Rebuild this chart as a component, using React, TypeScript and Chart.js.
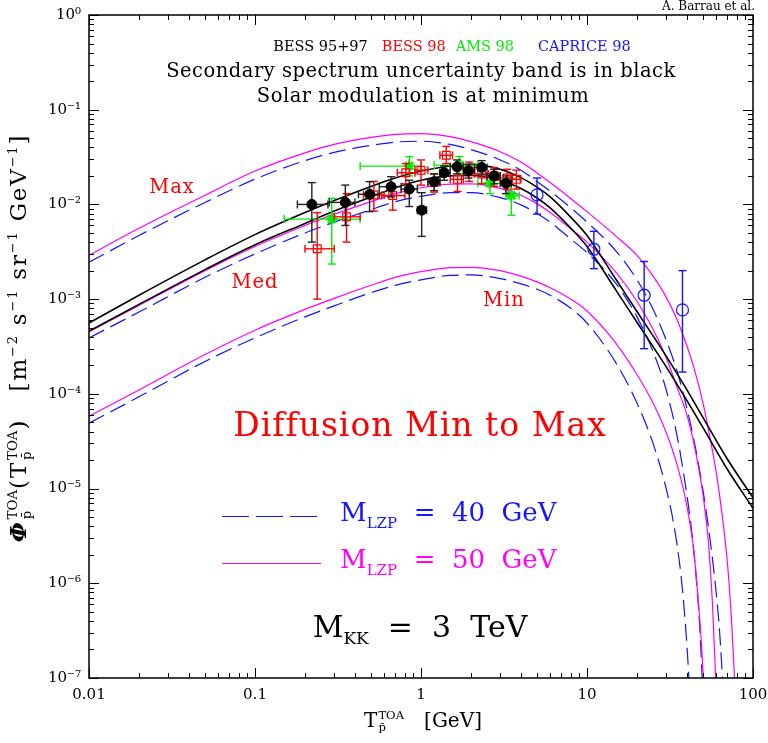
import React, { useEffect, useRef } from "react";
import { Chart, registerables } from "chart.js";
Chart.register(...registerables);

// ---------------- axes ----------------
const xTickValues = [0.01, 0.1, 1, 10, 100];
const xTickLabels = ["0.01", "0.1", "1", "10", "100"];
const yTickValues = [1e-7, 1e-6, 1e-5, 1e-4, 1e-3, 1e-2, 1e-1, 1];
const yTickLabels = ["10⁻⁷", "10⁻⁶", "10⁻⁵", "10⁻⁴", "10⁻³", "10⁻²", "10⁻¹", "10⁰"];
const minorMultipliers = [2, 3, 4, 5, 6, 7, 8, 9];

// ---------------- model curves (T [GeV], flux) ----------------
const commonT = [0.01, 0.02, 0.05, 0.1, 0.2, 0.3, 0.5, 0.7, 1, 1.5, 2, 3, 4, 5, 6, 8, 10, 15, 20];

// Secondary band (black)
const secUpperT = [...commonT, 25, 30, 40, 50, 70, 100];
const secUpperF = [5.6e-4, 1.1e-3, 2.6e-3, 4.8e-3, 8.2e-3, 1.1e-2, 1.55e-2, 1.9e-2, 2.25e-2, 2.55e-2, 2.65e-2, 2.35e-2, 1.92e-2, 1.52e-2, 1.2e-2, 7.3e-3, 4.7e-3, 1.6e-3, 7.4e-4, 4.1e-4, 2.5e-4, 1.1e-4, 5.6e-5, 2.05e-5, 8.0e-6];
const secLowerT = [...commonT, 25, 30, 40, 50, 70, 100];
const secLowerF = [4.6e-4, 8.8e-4, 2.05e-3, 3.75e-3, 6.3e-3, 8.5e-3, 1.2e-2, 1.5e-2, 1.8e-2, 2.0e-2, 2.02e-2, 1.8e-2, 1.47e-2, 1.17e-2, 9.2e-3, 5.6e-3, 3.6e-3, 1.23e-3, 5.7e-4, 3.15e-4, 1.93e-4, 8.5e-5, 4.4e-5, 1.6e-5, 6.2e-6];

// M_LZP = 50 GeV (magenta, solid)
const mag50MaxT = [...commonT, 25, 30, 35, 40, 44, 50, 55, 60, 65, 70, 74, 77, 79];
const mag50MaxF = [2.9e-3, 5.6e-3, 1.25e-2, 2.25e-2, 3.5e-2, 4.3e-2, 5.1e-2, 5.5e-2, 5.6e-2, 5.2e-2, 4.6e-2, 3.6e-2, 2.8e-2, 2.15e-2, 1.7e-2, 1.15e-2, 8.4e-3, 4.6e-3, 2.9e-3, 1.75e-3, 1.05e-3, 6.0e-4, 3.2e-4, 1.9e-4, 8.0e-5, 3.5e-5, 1.5e-5, 5.5e-6, 1.7e-6, 4.5e-7, 1.2e-7, 4e-8];
const mag50MedT = [...commonT, 25, 30, 35, 40, 45, 50, 54, 57, 59, 61];
const mag50MedF = [4.5e-4, 8.6e-4, 2.0e-3, 3.6e-3, 6.0e-3, 7.9e-3, 1.07e-2, 1.3e-2, 1.5e-2, 1.64e-2, 1.65e-2, 1.48e-2, 1.25e-2, 1.02e-2, 8.2e-3, 5.5e-3, 4.0e-3, 1.9e-3, 9.5e-4, 4.8e-4, 2.4e-4, 1.15e-4, 6.0e-5, 2.5e-5, 8.5e-6, 2.6e-6, 6.0e-7, 1.5e-7, 3e-8];
const mag50MinT = [...commonT, 25, 30, 35, 40, 44, 47, 49, 51];
const mag50MinF = [5.8e-5, 1.1e-4, 2.6e-4, 4.7e-4, 7.8e-4, 1.02e-3, 1.4e-3, 1.7e-3, 1.95e-3, 2.15e-3, 2.17e-3, 2.0e-3, 1.75e-3, 1.52e-3, 1.32e-3, 1.0e-3, 7.5e-4, 3.4e-4, 1.6e-4, 8.0e-5, 3.9e-5, 1.75e-5, 6.5e-6, 2.2e-6, 6.0e-7, 2.2e-7, 6e-8];

// M_LZP = 40 GeV (blue, dashed)
const blu40MaxT = [...commonT, 25, 30, 35, 40, 45, 50, 55, 60, 63, 66];
const blu40MaxF = [2.45e-3, 4.7e-3, 1.05e-2, 1.85e-2, 2.9e-2, 3.55e-2, 4.2e-2, 4.55e-2, 4.65e-2, 4.3e-2, 3.8e-2, 2.95e-2, 2.3e-2, 1.75e-2, 1.38e-2, 9.2e-3, 6.5e-3, 3.2e-3, 1.6e-3, 7.8e-4, 3.7e-4, 1.7e-4, 7.0e-5, 2.7e-5, 9.5e-6, 3.0e-6, 8.0e-7, 3.0e-7, 8e-8];
const blu40MedT = [...commonT, 25, 30, 35, 40, 43, 46, 48, 50];
const blu40MedF = [3.9e-4, 7.3e-4, 1.7e-3, 3.0e-3, 5.0e-3, 6.5e-3, 8.8e-3, 1.07e-2, 1.22e-2, 1.33e-2, 1.33e-2, 1.18e-2, 9.9e-3, 8.0e-3, 6.5e-3, 4.3e-3, 3.1e-3, 1.45e-3, 6.5e-4, 2.8e-4, 1.1e-4, 3.5e-5, 8.5e-6, 3.2e-6, 9.0e-7, 3.0e-7, 6e-8];
const blu40MinT = [...commonT, 25, 30, 33, 36, 38, 40, 42];
const blu40MinF = [4.9e-5, 9.3e-5, 2.2e-4, 3.9e-4, 6.5e-4, 8.5e-4, 1.17e-3, 1.4e-3, 1.6e-3, 1.78e-3, 1.8e-3, 1.65e-3, 1.45e-3, 1.27e-3, 1.1e-3, 8.0e-4, 5.6e-4, 2.1e-4, 8.0e-5, 3.0e-5, 1.0e-5, 4.6e-6, 1.7e-6, 7.0e-7, 2.2e-7, 5e-8];

// ---------------- data points ----------------
// BESS 95+97 (black filled circles)
const bess9597T = [0.22, 0.35, 0.49, 0.66, 0.85, 1.01, 1.2, 1.38, 1.65, 1.93, 2.32, 2.76, 3.25];
const bess9597F = [1.0e-2, 1.05e-2, 1.28e-2, 1.54e-2, 1.45e-2, 8.7e-3, 1.74e-2, 2.16e-2, 2.5e-2, 2.27e-2, 2.46e-2, 2.0e-2, 1.67e-2];
const bess9597Fhi = [1.7e-2, 1.6e-2, 1.74e-2, 1.96e-2, 1.8e-2, 1.33e-2, 2.1e-2, 2.55e-2, 2.95e-2, 2.65e-2, 2.9e-2, 2.35e-2, 2.0e-2];
const bess9597Flo = [4.0e-3, 6.0e-3, 8.4e-3, 1.2e-2, 9.5e-3, 4.6e-3, 1.4e-2, 1.8e-2, 2.1e-2, 1.9e-2, 2.05e-2, 1.65e-2, 1.3e-2];
const bess9597Tlo = [0.18, 0.28, 0.42, 0.56, 0.76, 0.95, 1.1, 1.3, 1.5, 1.8, 2.1, 2.5, 3.0];
const bess9597Thi = [0.275, 0.40, 0.56, 0.76, 0.95, 1.08, 1.3, 1.5, 1.8, 2.1, 2.5, 3.0, 3.5];

// BESS 98 (red open squares)
const bess98T = [0.237, 0.356, 0.52, 0.675, 0.81, 1.0, 1.2, 1.42, 1.66, 1.95, 2.32, 2.76, 3.3, 3.75];
const bess98F = [3.4e-3, 7.4e-3, 1.26e-2, 1.24e-2, 2.16e-2, 2.3e-2, 1.7e-2, 3.3e-2, 1.84e-2, 2.25e-2, 2.1e-2, 2.0e-2, 1.9e-2, 1.84e-2];
const bess98Fhi = [8.2e-3, 1.3e-2, 1.75e-2, 1.54e-2, 2.7e-2, 2.95e-2, 2.1e-2, 4.1e-2, 2.3e-2, 2.8e-2, 2.6e-2, 2.45e-2, 2.35e-2, 2.3e-2];
const bess98Flo = [1.0e-3, 4.0e-3, 8.5e-3, 8.7e-3, 1.65e-2, 1.6e-2, 1.35e-2, 2.7e-2, 1.37e-2, 1.75e-2, 1.65e-2, 1.55e-2, 1.45e-2, 1.45e-2];
const bess98Tlo = [0.2, 0.30, 0.45, 0.58, 0.72, 0.92, 1.1, 1.3, 1.5, 1.8, 2.1, 2.5, 3.0, 3.5];
const bess98Thi = [0.3, 0.43, 0.6, 0.8, 0.92, 1.1, 1.3, 1.55, 1.8, 2.1, 2.55, 3.0, 3.5, 4.0];

// AMS 98 (green stars)
const ams98T = [0.29, 0.85, 1.7, 2.6, 3.5];
const ams98F = [7.0e-3, 2.54e-2, 2.6e-2, 1.67e-2, 1.24e-2];
const ams98Fhi = [1.16e-2, 3.2e-2, 3.2e-2, 2.1e-2, 1.9e-2];
const ams98Flo = [2.35e-3, 2.0e-2, 2.1e-2, 1.3e-2, 7.7e-3];
const ams98Tlo = [0.15, 0.43, 1.2, 2.2, 3.25];
const ams98Thi = [0.43, 1.0, 2.2, 3.25, 3.9];

// CAPRICE 98 (blue open circles)
const caprice98T = [5.0, 11.0, 22.1, 37.6];
const caprice98F = [1.26e-2, 3.36e-3, 1.1e-3, 7.7e-4];
const caprice98Fhi = [1.9e-2, 5.2e-3, 2.5e-3, 2.0e-3];
const caprice98Flo = [7.9e-3, 2.1e-3, 3.0e-4, 1.7e-4];

// ---------------- helpers ----------------
const pts = (xs: number[], ys: number[]) => xs.map((x, i) => ({ x, y: ys[i] }));
const SERIF = "'DejaVu Serif', 'Liberation Serif', serif";
const MAGENTA = "#ff00ff";
const BLUE = "#1414ff";
const RED = "#ff0000";
const GREEN = "#00ee00";

function curve(xs: number[], ys: number[], color: string, width: number, dash: number[] = []) {
  return {
    data: pts(xs, ys),
    showLine: true,
    borderColor: color,
    borderWidth: width,
    borderDash: dash,
    pointRadius: 0,
    cubicInterpolationMode: "monotone",
    fill: false,
    clip: 0,
  };
}

const errorBarPlugin = {
  id: "errorBars",
  beforeDatasetDraw(chart: any, args: any) {
    const ds = chart.data.datasets[args.index];
    if (!ds.err) return;
    const { ctx, scales } = chart;
    const xs = scales.x, ys = scales.y;
    const e = ds.err;
    ctx.save();
    ctx.strokeStyle = e.color;
    ctx.lineWidth = 1.4;
    const cap = 4;
    const line = (x1: number, y1: number, x2: number, y2: number) => {
      ctx.beginPath(); ctx.moveTo(x1, y1); ctx.lineTo(x2, y2); ctx.stroke();
    };
    ds.data.forEach((p: any, i: number) => {
      const px = xs.getPixelForValue(p.x);
      const py = ys.getPixelForValue(p.y);
      const yt = ys.getPixelForValue(e.fhi[i]);
      const yb = ys.getPixelForValue(e.flo[i]);
      line(px, yt, px, yb);
      line(px - cap, yt, px + cap, yt);
      line(px - cap, yb, px + cap, yb);
      if (e.tlo && e.thi) {
        const xl = xs.getPixelForValue(e.tlo[i]);
        const xr = xs.getPixelForValue(e.thi[i]);
        line(xl, py, xr, py);
        line(xl, py - cap, xl, py + cap);
        line(xr, py - cap, xr, py + cap);
      }
    });
    ctx.restore();
  },
};

const framePlugin = {
  id: "frameTicks",
  afterDraw(chart: any) {
    const { ctx, chartArea: a, scales } = chart;
    const xs = scales.x, ys = scales.y;
    ctx.save();
    ctx.strokeStyle = "#000";
    ctx.lineWidth = 1.5;
    ctx.strokeRect(a.left, a.top, a.right - a.left, a.bottom - a.top);
    ctx.lineWidth = 1;
    const line = (x1: number, y1: number, x2: number, y2: number) => {
      ctx.beginPath(); ctx.moveTo(x1, y1); ctx.lineTo(x2, y2); ctx.stroke();
    };
    const MAJ = 10, MIN = 5;
    xTickValues.forEach((v, i) => {
      const p = Math.round(xs.getPixelForValue(v)) + 0.5;
      line(p, a.bottom, p, a.bottom - MAJ);
      line(p, a.top, p, a.top + MAJ);
      if (i < xTickValues.length - 1) {
        minorMultipliers.forEach((m) => {
          const q = Math.round(xs.getPixelForValue(v * m)) + 0.5;
          line(q, a.bottom, q, a.bottom - MIN);
          line(q, a.top, q, a.top + MIN);
        });
      }
    });
    yTickValues.forEach((v, i) => {
      const p = Math.round(ys.getPixelForValue(v)) + 0.5;
      line(a.left, p, a.left + MAJ, p);
      line(a.right, p, a.right - MAJ, p);
      if (i < yTickValues.length - 1) {
        minorMultipliers.forEach((m) => {
          const q = Math.round(ys.getPixelForValue(v * m)) + 0.5;
          line(a.left, q, a.left + MIN, q);
          line(a.right, q, a.right - MIN, q);
        });
      }
    });
    ctx.restore();
  },
};

// stacked superscript / subscript
function SS({ sup, sub, size = "0.58em" }: { sup: string; sub: string; size?: string }) {
  return (
    <span style={{ display: "inline-flex", flexDirection: "column", verticalAlign: "middle", fontSize: size, lineHeight: 1.05, textAlign: "left", margin: "0 1px", letterSpacing: 0 }}>
      <span>{sup}</span>
      <span>{sub}</span>
    </span>
  );
}

function Txt({ x, y, size, color = "#000", anchor = "center", children, style = {} }: any) {
  const tx = anchor === "center" ? "-50%" : anchor === "right" ? "-100%" : "0";
  return (
    <div style={{ position: "absolute", left: x, top: y, transform: `translate(${tx}, -50%)`, fontFamily: SERIF, fontSize: size, color, whiteSpace: "pre", lineHeight: 1, ...style }}>
      {children}
    </div>
  );
}

export default function App() {
  const ref = useRef<HTMLCanvasElement | null>(null);

  useEffect(() => {
    if (!ref.current) return;
    const datasets: any[] = [
      {
        label: "BESS 95+97",
        data: pts(bess9597T, bess9597F),
        pointStyle: "circle", pointRadius: 5, backgroundColor: "#000", borderColor: "#000", borderWidth: 1,
        err: { color: "#222", fhi: bess9597Fhi, flo: bess9597Flo, tlo: bess9597Tlo, thi: bess9597Thi },
      },
      {
        label: "BESS 98",
        data: pts(bess98T, bess98F),
        pointStyle: "rect", pointRadius: 5.5, backgroundColor: "rgba(0,0,0,0)", borderColor: RED, borderWidth: 1.2,
        err: { color: RED, fhi: bess98Fhi, flo: bess98Flo, tlo: bess98Tlo, thi: bess98Thi },
      },
      {
        label: "AMS 98",
        data: pts(ams98T, ams98F),
        pointStyle: "star", pointRadius: 5.5, backgroundColor: GREEN, borderColor: GREEN, borderWidth: 2.5,
        err: { color: GREEN, fhi: ams98Fhi, flo: ams98Flo, tlo: ams98Tlo, thi: ams98Thi },
      },
      {
        label: "CAPRICE 98",
        data: pts(caprice98T, caprice98F),
        pointStyle: "circle", pointRadius: 6, backgroundColor: "rgba(0,0,0,0)", borderColor: BLUE, borderWidth: 1.2,
        err: { color: BLUE, fhi: caprice98Fhi, flo: caprice98Flo },
      },
      curve(secUpperT, secUpperF, "#000", 1.6),
      curve(secLowerT, secLowerF, "#000", 1.6),
      curve(mag50MaxT, mag50MaxF, MAGENTA, 1.2),
      curve(mag50MedT, mag50MedF, MAGENTA, 1.2),
      curve(mag50MinT, mag50MinF, MAGENTA, 1.2),
      curve(blu40MaxT, blu40MaxF, BLUE, 1.2, [17, 7]),
      curve(blu40MedT, blu40MedF, BLUE, 1.2, [17, 7]),
      curve(blu40MinT, blu40MinF, BLUE, 1.2, [17, 7]),
    ];

    const tickFont = { family: SERIF, size: 15 };
    const chart = new Chart(ref.current, {
      type: "scatter",
      data: { datasets },
      options: {
        animation: false,
        responsive: false,
        events: [],
        layout: { padding: { left: 0, top: 15, right: 15, bottom: 0 } },
        plugins: { legend: { display: false }, tooltip: { enabled: false }, title: { display: false } },
        scales: {
          x: {
            type: "logarithmic",
            min: 0.01,
            max: 100,
            grid: { display: false, drawTicks: false },
            border: { display: false },
            afterBuildTicks: (s: any) => { s.ticks = xTickValues.map((v) => ({ value: v })); },
            afterFit: (s: any) => { s.height = 65; s.paddingLeft = 0; s.paddingRight = 0; },
            ticks: {
              autoSkip: false, maxRotation: 0, color: "#000", font: tickFont, padding: 8,
              callback: (v: any) => { const i = xTickValues.findIndex((t) => Math.abs(t - v) / t < 1e-6); return i >= 0 ? xTickLabels[i] : ""; },
            },
          },
          y: {
            type: "logarithmic",
            min: 1e-7,
            max: 1,
            grid: { display: false, drawTicks: false },
            border: { display: false },
            afterBuildTicks: (s: any) => { s.ticks = yTickValues.map((v) => ({ value: v })); },
            afterFit: (s: any) => { s.width = 89; s.paddingTop = 0; s.paddingBottom = 0; },
            ticks: {
              autoSkip: false, color: "#000", font: tickFont, padding: 8,
              callback: (v: any) => { const i = yTickValues.findIndex((t) => Math.abs(t - v) / t < 1e-6); return i >= 0 ? yTickLabels[i] : ""; },
            },
          },
        },
      } as any,
      plugins: [errorBarPlugin, framePlugin],
    });
    return () => chart.destroy();
  }, []);

  return (
    <div style={{ position: "absolute", left: 0, top: 0, width: 768, height: 743, background: "#fff", overflow: "hidden" }}>
      <canvas ref={ref} width={768} height={743} style={{ position: "absolute", left: 0, top: 0, width: 768, height: 743 }} />

      <Txt x={755} y={6} size={12} anchor="right">A. Barrau et al.</Txt>

      <Txt x={452} y={46} size={14.5}>
        <span>BESS 95+97</span>
        <span style={{ color: RED, marginLeft: 14 }}>BESS 98</span>
        <span style={{ color: GREEN, marginLeft: 10 }}>AMS 98</span>
        <span style={{ color: BLUE, marginLeft: 24 }}>CAPRICE 98</span>
      </Txt>
      <Txt x={421} y={71} size={19.5} style={{ letterSpacing: 0.5 }}>Secondary spectrum uncertainty band is in black</Txt>
      <Txt x={423} y={96} size={19.5} style={{ letterSpacing: 0.5 }}>Solar modulation is at minimum</Txt>

      <Txt x={172} y={187} size={19.5} color={RED} style={{ letterSpacing: 1 }}>Max</Txt>
      <Txt x={255} y={282} size={19.5} color={RED} style={{ letterSpacing: 1 }}>Med</Txt>
      <Txt x={504} y={300} size={19.5} color={RED} style={{ letterSpacing: 1 }}>Min</Txt>

      <Txt x={420} y={424} size={33} color={RED} style={{ letterSpacing: 1 }}>Diffusion Min to Max</Txt>

      <svg style={{ position: "absolute", left: 0, top: 0 }} width={768} height={743}>
        <line x1={222} y1={516.5} x2={317} y2={516.5} stroke={BLUE} strokeWidth={1.2} strokeDasharray="27 7" />
        <line x1={222} y1={563.5} x2={321} y2={563.5} stroke={MAGENTA} strokeWidth={1.2} />
      </svg>
      <Txt x={340} y={515} size={26} color={BLUE} anchor="left">M<sub style={{ fontSize: 15 }}>LZP</sub>{"  =  40  GeV"}</Txt>
      <Txt x={340} y={562} size={26} color={MAGENTA} anchor="left">M<sub style={{ fontSize: 15 }}>LZP</sub>{"  =  50  GeV"}</Txt>

      <Txt x={420} y={629} size={30}>M<sub style={{ fontSize: 17 }}>KK</sub>{"  =  3  TeV"}</Txt>

      <Txt x={423} y={721} size={20}>T<SS sup="TOA" sub="p̄" />{"   [GeV]"}</Txt>

      <div style={{ position: "absolute", left: 20, top: 338, transform: "translate(-50%, -50%) rotate(-90deg)", fontFamily: SERIF, fontSize: 23, whiteSpace: "pre", lineHeight: 1, letterSpacing: 1.8 }}>
        <span style={{ fontStyle: "italic", fontWeight: "bold" }}>Φ</span><SS sup="TOA" sub="p̄" />(T<SS sup="TOA" sub="p̄" />){"   [m"}<sup style={{ fontSize: 13 }}>−2</sup>{" s"}<sup style={{ fontSize: 13 }}>−1</sup>{" sr"}<sup style={{ fontSize: 13 }}>−1</sup>{" GeV"}<sup style={{ fontSize: 13 }}>−1</sup>{"]"}
      </div>
    </div>
  );
}
